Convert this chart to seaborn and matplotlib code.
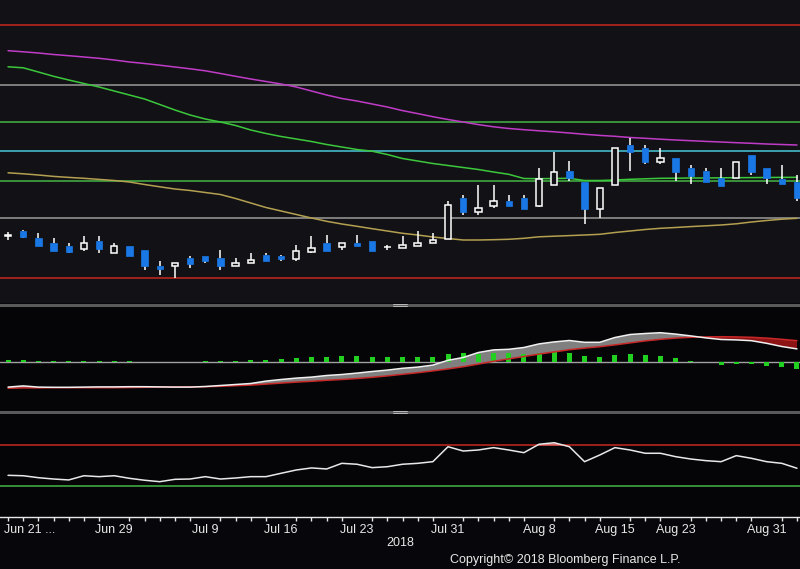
import numpy as np
import pandas as pd
import seaborn as sns
import matplotlib.pyplot as plt
from matplotlib.patches import Rectangle
from matplotlib.lines import Line2D

# trading days shown (index positions), tick labels
tick_pos = [1.4, 7, 13, 18, 23, 29, 35, 40, 44, 50]
tick_lab = ['Jun 21 ...', 'Jun 29', 'Jul 9', 'Jul 16', 'Jul 23', 'Jul 31',
            'Aug 8', 'Aug 15', 'Aug 23', 'Aug 31']

# candles
opens = [104.20, 104.73, 103.97, 103.47, 103.20, 102.93, 103.70, 102.47, 103.20, 102.80,
         101.23, 101.23, 102.00, 102.20, 102.03, 101.23, 101.47, 102.27, 102.20, 101.93,
         102.63, 103.47, 103.13, 103.47, 103.70, 103.05, 102.97, 103.23, 103.47, 103.93,
         107.97, 106.63, 107.23, 107.70, 107.97, 107.20, 109.30, 110.67, 109.63, 106.90,
         109.30, 113.30, 112.97, 111.63, 111.97, 110.97, 110.70, 109.97, 109.97, 112.30,
         110.97, 109.87, 109.63]
closes = [104.25, 104.10, 103.23, 102.73, 102.60, 103.47, 102.93, 103.20, 102.23, 101.20,
          100.93, 101.47, 101.43, 101.73, 101.23, 101.47, 101.80, 101.73, 101.93, 102.67,
          103.00, 102.73, 103.47, 103.23, 102.73, 103.09, 103.27, 103.47, 103.77, 107.30,
          106.63, 106.97, 107.70, 107.23, 106.90, 109.87, 110.63, 109.97, 106.90, 108.97,
          112.97, 112.63, 111.63, 111.97, 110.63, 110.23, 109.63, 109.23, 111.63, 110.63,
          109.97, 109.43, 107.97]
highs = [104.63, 104.80, 104.47, 103.97, 103.47, 104.20, 104.20, 103.53, 103.20, 102.80,
         101.70, 101.47, 102.20, 102.20, 102.80, 102.00, 102.47, 102.47, 102.33, 103.30,
         104.20, 104.30, 103.47, 104.30, 103.70, 103.30, 104.20, 104.73, 104.50, 107.73,
         108.30, 109.30, 109.30, 108.30, 108.30, 110.97, 112.63, 111.70, 109.63, 108.97,
         112.97, 114.03, 113.30, 112.97, 111.97, 111.30, 110.97, 110.97, 111.63, 112.30,
         110.97, 111.30, 110.30]
lows = [103.80, 104.03, 103.23, 102.73, 102.50, 102.73, 102.53, 102.47, 102.23, 100.80,
        100.30, 100.03, 101.00, 101.53, 100.80, 101.23, 101.47, 101.73, 101.73, 101.73,
        102.53, 102.73, 102.80, 103.23, 102.73, 102.80, 102.97, 103.23, 103.47, 103.93,
        106.30, 106.30, 107.03, 107.23, 106.90, 107.07, 109.30, 109.73, 105.37, 106.03,
        109.30, 110.73, 111.37, 111.37, 109.73, 109.37, 109.63, 109.23, 109.97, 110.30,
        109.37, 109.37, 107.73]

# moving averages
ma_magenta = [122.73, 122.62, 122.50, 122.35, 122.23, 122.10, 121.97, 121.80, 121.60, 121.45,
              121.28, 121.10, 120.92, 120.72, 120.45, 120.17, 119.90, 119.65, 119.40, 119.10,
              118.70, 118.30, 117.95, 117.70, 117.40, 117.10, 116.74, 116.44, 116.13, 115.85,
              115.60, 115.34, 115.12, 114.95, 114.83, 114.72, 114.62, 114.50, 114.37, 114.26,
              114.17, 114.05, 113.97, 113.88, 113.80, 113.73, 113.66, 113.60, 113.53, 113.47,
              113.40, 113.35, 113.30]
ma_green = [121.12, 121.02, 120.60, 120.17, 119.80, 119.45, 119.10, 118.70, 118.30, 117.90,
            117.35, 116.80, 116.30, 115.90, 115.60, 115.25, 114.80, 114.45, 114.15, 113.90,
            113.65, 113.35, 113.10, 112.85, 112.68, 112.35, 111.95, 111.70, 111.45, 111.25,
            111.05, 110.85, 110.60, 110.37, 109.95, 109.93, 109.95, 109.97, 109.75, 109.75,
            109.80, 109.87, 109.92, 109.97, 109.98, 110.00, 110.00, 110.02, 110.03, 110.04,
            110.05, 110.06, 110.07]
ma_yellow = [110.52, 110.42, 110.30, 110.16, 110.06, 109.97, 109.86, 109.75, 109.60, 109.35,
             109.12, 108.90, 108.75, 108.55, 108.35, 107.95, 107.50, 107.05, 106.70, 106.35,
             106.00, 105.67, 105.40, 105.17, 104.93, 104.70, 104.47, 104.30, 104.10, 103.95,
             103.80, 103.80, 103.83, 103.87, 103.97, 104.12, 104.18, 104.24, 104.30, 104.37,
             104.55, 104.70, 104.85, 104.97, 105.05, 105.14, 105.22, 105.30, 105.42, 105.60,
             105.75, 105.88, 105.97]

# fibonacci retracement
fib_low, fib_high = 100.0, 125.3
fib_ratios = [0.0, 0.236, 0.382, 0.5, 0.618, 0.764, 1.0]
fib_colors = ['#c8281e', '#9a9a9a', '#46b446', '#48c8d8', '#46b446', '#9a9a9a', '#c8281e']

# MACD panel
macd = [-1.27, -1.21, -1.27, -1.28, -1.28, -1.27, -1.26, -1.26, -1.25, -1.25,
        -1.26, -1.27, -1.27, -1.24, -1.19, -1.14, -1.09, -0.97, -0.89, -0.82,
        -0.77, -0.69, -0.64, -0.57, -0.49, -0.42, -0.33, -0.27, -0.17, 0.07,
        0.21, 0.46, 0.59, 0.62, 0.71, 0.89, 0.99, 1.06, 0.97, 0.97,
        1.21, 1.36, 1.41, 1.45, 1.38, 1.29, 1.19, 1.11, 1.09, 1.05,
        0.92, 0.76, 0.64]
signal = [-1.33, -1.31, -1.31, -1.30, -1.30, -1.30, -1.30, -1.30, -1.29, -1.28,
          -1.27, -1.26, -1.26, -1.25, -1.23, -1.20, -1.17, -1.12, -1.07, -1.02,
          -0.98, -0.93, -0.89, -0.84, -0.78, -0.71, -0.63, -0.55, -0.46, -0.36,
          -0.25, -0.12, 0.02, 0.14, 0.26, 0.38, 0.49, 0.60, 0.68, 0.75,
          0.84, 0.94, 1.04, 1.12, 1.18, 1.22, 1.24, 1.25, 1.24, 1.22,
          1.18, 1.12, 1.05]
hist = [0.09, 0.09, 0.04, 0.02, 0.02, 0.04, 0.04, 0.04, 0.04, 0.01,
        -0.01, -0.02, 0.01, 0.04, 0.04, 0.04, 0.09, 0.09, 0.14, 0.19,
        0.24, 0.24, 0.29, 0.29, 0.24, 0.24, 0.24, 0.24, 0.24, 0.39,
        0.44, 0.39, 0.44, 0.44, 0.39, 0.44, 0.49, 0.44, 0.29, 0.24,
        0.34, 0.39, 0.34, 0.29, 0.19, 0.04, 0.01, -0.15, -0.09, -0.09,
        -0.20, -0.25, -0.37]

# RSI panel
rsi = [40.4, 40.0, 38.1, 36.8, 35.9, 40.0, 39.1, 40.0, 37.5, 35.6,
       34.2, 36.5, 36.8, 39.1, 36.8, 37.8, 39.1, 39.1, 42.4, 45.6,
       47.6, 46.6, 52.1, 51.2, 47.9, 48.8, 51.2, 52.1, 53.7, 68.3,
       64.1, 65.1, 67.4, 65.1, 62.5, 70.7, 72.2, 68.3, 53.7, 60.2,
       67.4, 65.1, 61.9, 61.9, 58.6, 56.3, 54.7, 53.7, 59.6, 57.0,
       53.7, 52.1, 47.3]

df = pd.DataFrame({'idx': np.arange(len(opens)), 'open': opens, 'close': closes,
                   'high': highs, 'low': lows, 'ma1': ma_magenta, 'ma2': ma_green,
                   'ma3': ma_yellow, 'macd': macd, 'signal': signal, 'hist': hist,
                   'rsi': rsi})

sns.set_theme(style='dark', rc={'axes.facecolor': '#07070b', 'figure.facecolor': '#07070b'})
plt.rcParams['font.family'] = ['Liberation Sans', 'DejaVu Sans']

fig = plt.figure(figsize=(8, 5.69), dpi=100)
xlim = (-0.53, 52.2)
W = 800.0
H = 569.0

def make_ax(top_px, bot_px, face):
    a = fig.add_axes([0, 1 - bot_px / H, 1, (bot_px - top_px) / H])
    a.set_facecolor(face)
    a.set_xlim(*xlim)
    for s in a.spines.values():
        s.set_visible(False)
    a.set_xticks([])
    a.set_yticks([])
    return a

ax1 = make_ax(0, 303, '#121216')
ax2 = make_ax(308, 410, '#050508')
ax3 = make_ax(414, 517, '#050508')

# --- price panel ---
for r, c in zip(fib_ratios, fib_colors):
    ax1.axhline(fib_low + r * (fib_high - fib_low), color=c, lw=1.1, zorder=1)

sns.lineplot(data=df, x='idx', y='ma1', ax=ax1, color='#c03cc8', lw=1.1, zorder=2)
sns.lineplot(data=df, x='idx', y='ma2', ax=ax1, color='#3cc83c', lw=1.1, zorder=2)
sns.lineplot(data=df, x='idx', y='ma3', ax=ax1, color='#b4a050', lw=1.1, zorder=2)

bw = 0.42
for i, row in df.iterrows():
    up = row['close'] >= row['open']
    top = max(row['open'], row['close'])
    bot = min(row['open'], row['close'])
    ax1.vlines(i, row['low'], bot, color='white', lw=1.1, zorder=3)
    ax1.vlines(i, top, row['high'], color='white', lw=1.1, zorder=3)
    h = max(top - bot, 0.04)
    if up:
        ax1.add_patch(Rectangle((i - bw / 2, bot), bw, h, facecolor='#121216',
                                edgecolor='white', lw=1.1, zorder=4))
    else:
        ax1.add_patch(Rectangle((i - bw / 2, bot), bw, h, facecolor='#1a78e6',
                                edgecolor='#1a78e6', lw=0.5, zorder=4))
ax1.set_ylim(97.5, 127.8)
ax1.set_xlabel('')
ax1.set_ylabel('')

# --- MACD panel ---
ax2.axhline(0, color='#a0a0a0', lw=1.0, zorder=1)
m = np.array(macd)
s = np.array(signal)
ax2.fill_between(df['idx'], m, s, where=m >= s, interpolate=True, color='#808080', lw=0, zorder=2)
ax2.fill_between(df['idx'], m, s, where=m < s, interpolate=True, color='#8c1414', lw=0, zorder=2)
ax2.bar(df['idx'], df['hist'], width=0.33, color='#22d022', edgecolor='none', lw=0, zorder=3)
sns.lineplot(data=df, x='idx', y='signal', ax=ax2, color='#c82828', lw=1.1, zorder=4)
sns.lineplot(data=df, x='idx', y='macd', ax=ax2, color='#f0f0f0', lw=1.1, zorder=5)
ax2.set_ylim(-2.415, 2.685)
ax2.set_xlabel('')
ax2.set_ylabel('')

# --- RSI panel ---
ax3.axhline(70, color='#c8281e', lw=1.1, zorder=1)
ax3.axhline(30, color='#46b446', lw=1.1, zorder=1)
r_arr = np.array(rsi)
ax3.fill_between(df['idx'], r_arr, 70, where=r_arr > 70, interpolate=True, color='#e07070', lw=0, zorder=2)
sns.lineplot(data=df, x='idx', y='rsi', ax=ax3, color='#e8e8e8', lw=1.1, zorder=3)
ax3.set_ylim(-0.24, 100.2)
ax3.set_xlabel('')
ax3.set_ylabel('')

# x axis on bottom panel
ax3.spines['bottom'].set_visible(True)
ax3.spines['bottom'].set_color('#e8e8e8')
ax3.spines['bottom'].set_linewidth(1.0)
ax3.set_xticks(df['idx'], minor=True)
ax3.set_xticks(tick_pos)
ax3.set_xticklabels(tick_lab)
ax3.tick_params(axis='x', which='minor', bottom=True, length=3, width=1, color='#e8e8e8')
ax3.tick_params(axis='x', which='major', bottom=True, length=0, labelcolor='#e8e8e8',
                labelsize=9, pad=5)
ax3.xaxis.set_ticks_position('bottom')

# separators with grip marks
for y0 in [303, 410]:
    fig.patches.append(Rectangle((0, 1 - (y0 + 4) / H), 1, 3.5 / H, transform=fig.transFigure,
                                 facecolor='#5a5a5a', edgecolor='none'))
    for dy in [1.2, 2.8]:
        fig.lines.append(Line2D([393 / W, 407 / W], [1 - (y0 + dy) / H] * 2,
                                transform=fig.transFigure, color='#c8c8c8', lw=0.6))

fig.text(400 / W, 1 - 543 / H, '2018', color='#e8e8e8', fontsize=9, ha='center', va='center')
fig.text(565 / W, 1 - 560 / H, 'Copyright\u00a9 2018 Bloomberg Finance L.P.', color='#e8e8e8',
         fontsize=9, ha='center', va='center')

fig.savefig('out.png', dpi=100, facecolor=fig.get_facecolor())
